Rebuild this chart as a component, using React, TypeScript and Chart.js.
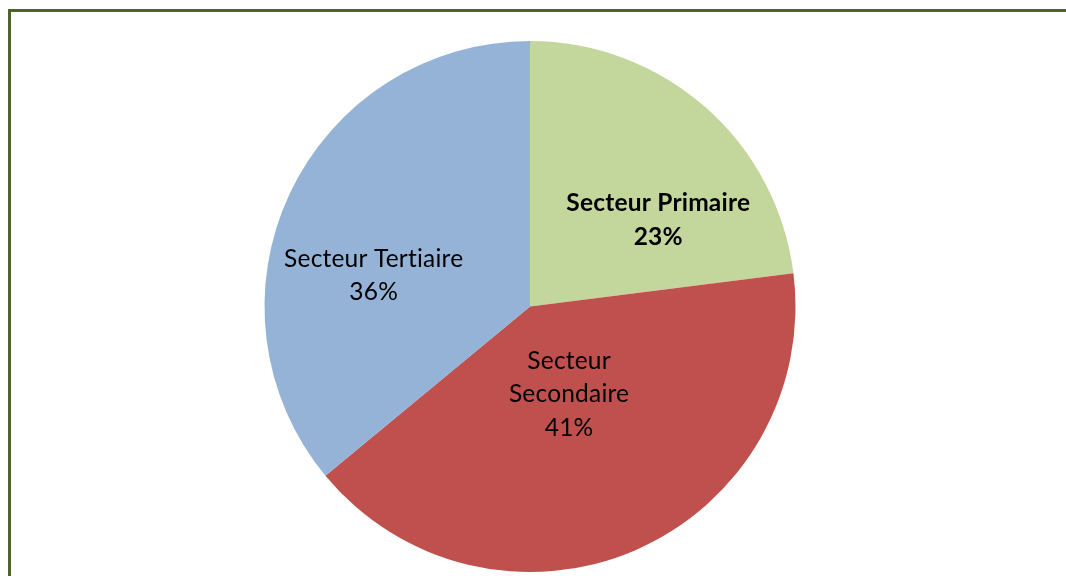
import React, { useEffect, useRef } from "react";
import { Chart, registerables } from "chart.js";

Chart.register(...registerables);

const categories = ["Secteur Primaire", "Secteur Secondaire", "Secteur Tertiaire"];
const labelLines = [["Secteur Primaire"], ["Secteur", "Secondaire"], ["Secteur Tertiaire"]];
const values = [23, 41, 36];
const colors = ["#C3D69B", "#C0504D", "#95B3D7"];
const labelBold = [true, false, false];
// label anchor: angle (deg, clockwise from top) and fraction of radius
const labelAngle = [56.1, 156, 281.1];
const labelRadius = [0.582, 0.362, 0.6];

const labelPlugin = {
  id: "sliceLabels",
  afterDatasetsDraw(chart: any) {
    const ctx = chart.ctx;
    const meta = chart.getDatasetMeta(0);
    const total = values.reduce((a, b) => a + b, 0);
    ctx.save();
    ctx.textAlign = "center";
    ctx.textBaseline = "middle";
    ctx.fillStyle = "#000000";
    try {
      (ctx as any).letterSpacing = "0.2px";
    } catch (e) {}
    meta.data.forEach((arc: any, i: number) => {
      const { x, y, outerRadius } = arc.getProps(["x", "y", "outerRadius"], true);
      const a = (labelAngle[i] * Math.PI) / 180;
      const r = outerRadius * labelRadius[i];
      const cx = x + r * Math.sin(a);
      const cy = y - r * Math.cos(a);
      const pct = Math.round((values[i] / total) * 100) + "%";
      const lines = [...labelLines[i], pct];
      const lh = 33.5;
      ctx.font = (labelBold[i] ? "bold " : "") + "24.5px Lato, 'Liberation Sans', sans-serif";
      lines.forEach((t, k) => {
        ctx.fillText(t, cx, cy + (k - (lines.length - 1) / 2) * lh);
      });
    });
    ctx.restore();
  },
};

export default function App() {
  const ref = useRef<HTMLCanvasElement | null>(null);
  useEffect(() => {
    if (!ref.current) return;
    const chart = new Chart(ref.current, {
      type: "pie",
      data: {
        labels: categories,
        datasets: [
          {
            data: values,
            backgroundColor: colors,
            borderWidth: 0,
          },
        ],
      },
      options: {
        animation: false,
        responsive: false,
        maintainAspectRatio: false,
        layout: { padding: { top: 41, bottom: 4, left: 264, right: 270 } },
        plugins: {
          legend: { display: false },
          tooltip: { enabled: false },
        },
      },
      plugins: [labelPlugin],
    });
    return () => chart.destroy();
  }, []);
  return (
    <div style={{ position: "fixed", left: 0, top: 0, width: 1066, height: 576, background: "#fff", overflow: "hidden" }}>
      <div
        style={{
          position: "absolute",
          left: 8,
          top: 9,
          width: 1070,
          height: 600,
          borderTop: "3px solid #4F6228",
          borderLeft: "3px solid #4F6228",
          boxSizing: "border-box",
        }}
      />
      <canvas ref={ref} width={1066} height={576} style={{ position: "absolute", left: 0, top: 0, width: 1066, height: 576 }} />
    </div>
  );
}
